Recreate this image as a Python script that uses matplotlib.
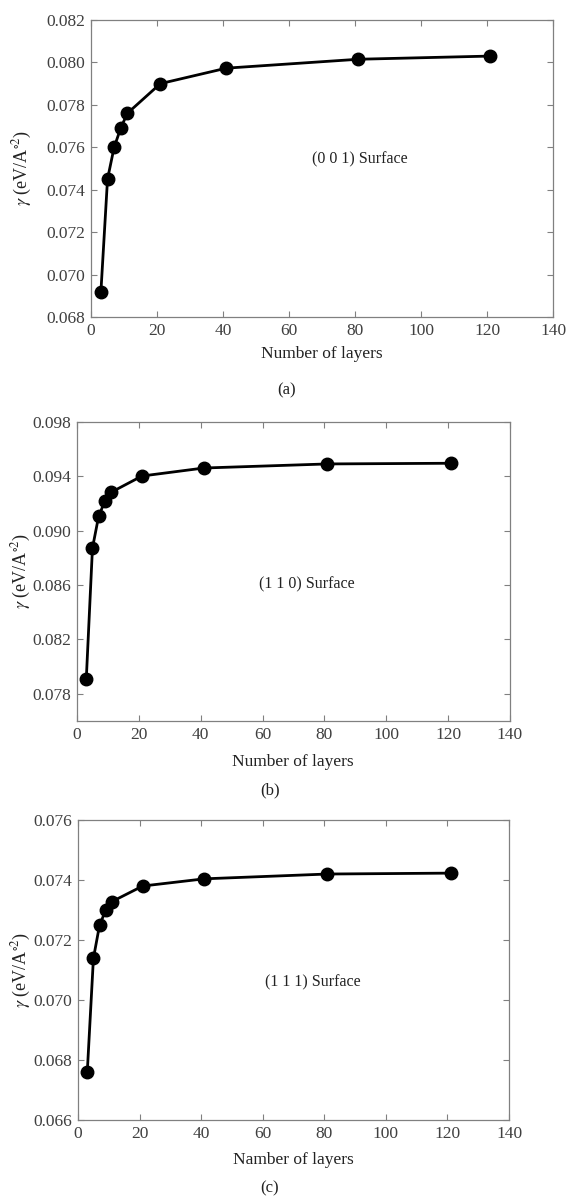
import matplotlib
matplotlib.use("Agg")
import matplotlib.pyplot as plt
import numpy as np

plt.rcParams['font.family'] = ['Liberation Serif', 'DejaVu Serif']
plt.rcParams['mathtext.fontset'] = 'stix'

layers = [3, 5, 7, 9, 11, 21, 41, 81, 121]
gamma_001 = [0.0692, 0.0745, 0.0760, 0.0769, 0.0776, 0.0790, 0.07973, 0.08015, 0.0803]
gamma_110 = [0.07906, 0.08872, 0.09106, 0.09216, 0.09282, 0.09402, 0.09461, 0.09491, 0.09496]
gamma_111 = [0.06759, 0.07139, 0.0725, 0.07299, 0.07328, 0.0738, 0.07404, 0.0742, 0.07423]

panels = [
    dict(y=gamma_001, ylim=(0.068, 0.082), yticks=np.arange(0.068, 0.0821, 0.002),
         label="(0 0 1) Surface", txt=(81.5, 0.07543), xlabel="Number of layers",
         sub="(a)", rect=[0.1583, 0.7354, 0.8035, 0.2479]),
    dict(y=gamma_110, ylim=(0.076, 0.098), yticks=np.arange(0.078, 0.0981, 0.004),
         label="(1 1 0) Surface", txt=(74.4, 0.08602), xlabel="Number of layers",
         sub="(b)", rect=[0.1339, 0.3982, 0.7530, 0.2496]),
    dict(y=gamma_111, ylim=(0.066, 0.076), yticks=np.arange(0.066, 0.0761, 0.002),
         label="(1 1 1) Surface", txt=(76.4, 0.07058), xlabel="Namber of layers",
         sub="(c)", rect=[0.1357, 0.0651, 0.7496, 0.2504]),
]

W, H = 575, 1198
fig = plt.figure(figsize=(W / 100, H / 100), dpi=100)
sub_pos = [(287, 390), (270, 790), (270, 1188)]
xlab_pos = [(322, 354), (293, 762), (293, 1160)]
ylab_x = [22, 21, 21]

grey = '#808080'
tcol = '#404040'
for i, p in enumerate(panels):
    ax = fig.add_axes(p['rect'])
    ax.plot(layers, p['y'], color='black', lw=2.0, marker='o', ms=9)
    ax.set_xlim(0, 140)
    ax.set_ylim(*p['ylim'])
    ax.set_xticks(np.arange(0, 141, 20))
    ax.set_yticks(p['yticks'])
    ax.set_yticklabels([f"{v:.3f}" for v in p['yticks']])
    for s in ax.spines.values():
        s.set_color(grey)
        s.set_linewidth(0.9)
    ax.tick_params(direction='in', length=4, width=0.8, color=grey, labelcolor=tcol,
                   labelsize=12.5, top=True, right=True, pad=4)
    ax.text(p['txt'][0], p['txt'][1], p['label'], ha='center', va='center',
            fontsize=11.5, color='#222222')
    fig.text(xlab_pos[i][0] / W, 1 - xlab_pos[i][1] / H, p['xlabel'], ha='center', va='center',
             fontsize=12.5, color='#222222')
    ycen = p['rect'][1] + p['rect'][3] / 2
    fig.text(ylab_x[i] / W, ycen, r'$\gamma$ (eV/A$^{\circ 2}$)', rotation=90,
             ha='center', va='center', fontsize=13, color='#222222')
    fig.text(sub_pos[i][0] / W, 1 - sub_pos[i][1] / H, p['sub'], ha='center', va='center',
             fontsize=12, color='#222222')

fig.savefig('out.png', dpi=100, facecolor='white')
